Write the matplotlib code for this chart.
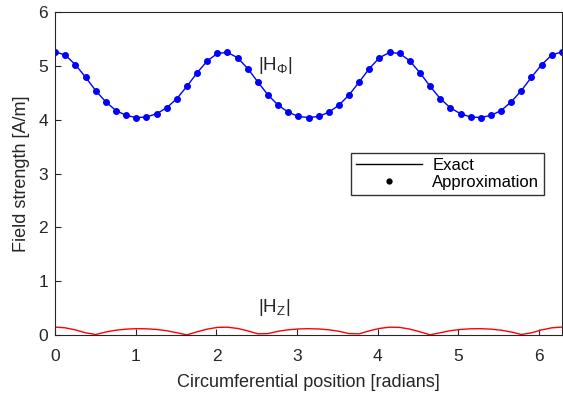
import numpy as np
import matplotlib
matplotlib.use("Agg")
import matplotlib.pyplot as plt

plt.rcParams['font.family'] = ['Liberation Sans', 'DejaVu Sans']
plt.rcParams['mathtext.fontset'] = 'custom'
plt.rcParams['mathtext.rm'] = 'Liberation Sans'
plt.rcParams['mathtext.it'] = 'Liberation Sans'

# circumferential position (51 samples over one turn)
theta = np.linspace(0, 2 * np.pi, 51)

# |H_phi| [A/m]
h_phi = [5.26, 5.20, 5.02, 4.79, 4.54, 4.33, 4.17, 4.08, 4.04, 4.05,
         4.11, 4.22, 4.39, 4.62, 4.87, 5.09, 5.23, 5.25, 5.15, 4.95,
         4.70, 4.46, 4.27, 4.14, 4.06, 4.04, 4.06, 4.14, 4.27, 4.46,
         4.70, 4.95, 5.15, 5.25, 5.23, 5.09, 4.87, 4.62, 4.39, 4.22,
         4.11, 4.05, 4.04, 4.08, 4.17, 4.33, 4.54, 4.79, 5.02, 5.20,
         5.26]

# |H_z| [A/m]
h_z = [0.150, 0.136, 0.097, 0.044, 0.012, 0.059, 0.092, 0.112, 0.120, 0.118,
       0.106, 0.083, 0.045, 0.006, 0.062, 0.112, 0.144, 0.148, 0.125, 0.080,
       0.025, 0.029, 0.072, 0.100, 0.115, 0.120, 0.115, 0.100, 0.072, 0.029,
       0.025, 0.080, 0.125, 0.148, 0.144, 0.112, 0.062, 0.006, 0.045, 0.083,
       0.106, 0.118, 0.120, 0.112, 0.092, 0.059, 0.012, 0.044, 0.097, 0.136,
       0.150]

fig = plt.figure(figsize=(5.63, 3.99), dpi=100)
ax = fig.add_axes([0.098, 0.16, 0.900, 0.81])

ax.plot(theta, h_phi, '-', color='blue', lw=1.0)
ax.plot(theta, h_phi, 'o', color='blue', ms=4.0)
ax.plot(theta, h_z, '-', color='red', lw=1.0)

# legend entries only (black)
ax.plot([], [], '-', color='black', lw=1.0, label='Exact')
ax.plot([], [], 'o', color='black', ms=3.5, label='Approximation')
ax.legend(loc='upper right', bbox_to_anchor=(0.982, 0.59), fontsize=12,
          frameon=True, fancybox=False, edgecolor='#333333', framealpha=1,
          handlelength=4.0, borderpad=0.3, labelspacing=0.15, handletextpad=0.6)

ax.text(2.52, 4.93, r'$|\mathrm{H}_{\Phi}|$', fontsize=13.5, color='#262626')
ax.text(2.52, 0.43, r'$|\mathrm{H}_{\mathrm{Z}}|$', fontsize=13.5, color='#262626')

ax.set_xlim(0, 2 * np.pi)
ax.set_ylim(0, 6)
ax.set_xticks([0, 1, 2, 3, 4, 5, 6])
ax.set_yticks([0, 1, 2, 3, 4, 5, 6])
ax.tick_params(direction='in', length=4, labelsize=12.5, colors='#262626',
               top=False, right=False)
ax.tick_params(axis='x', pad=10)
ax.tick_params(axis='y', pad=5)
for s in ax.spines.values():
    s.set_color('#262626')
    s.set_linewidth(0.8)

ax.set_xlabel('Circumferential position [radians]', fontsize=13, color='#262626',
              labelpad=7)
ax.set_ylabel('Field strength [A/m]', fontsize=13, color='#262626', labelpad=6)

fig.savefig('out.png', dpi=100)
